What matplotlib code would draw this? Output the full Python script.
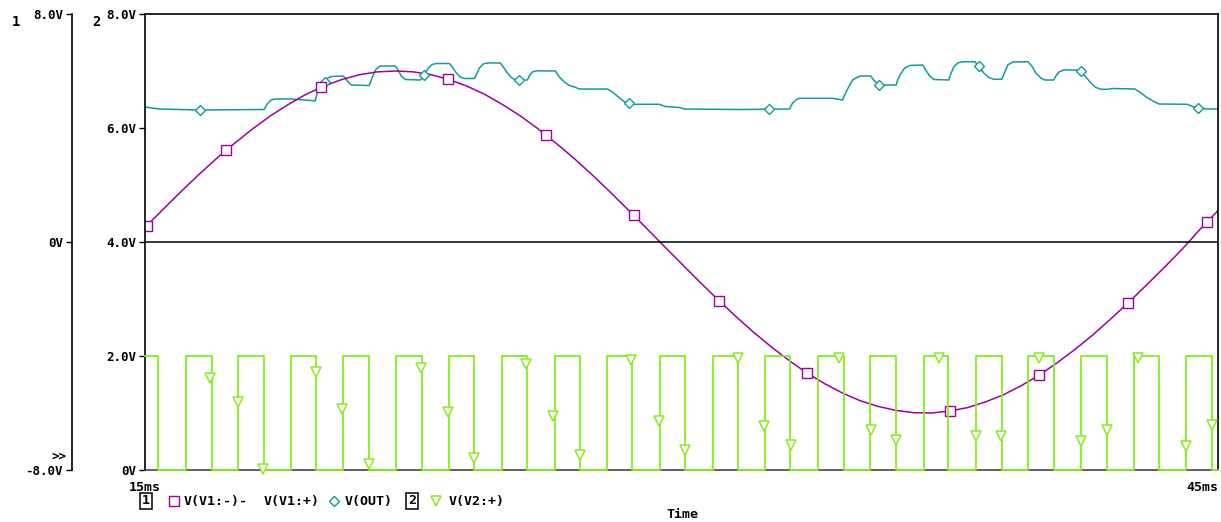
import numpy as np
import matplotlib
matplotlib.use("Agg")
import matplotlib.pyplot as plt
from matplotlib.lines import Line2D

plt.rcParams['font.family'] = ['DejaVu Sans Mono']
plt.rcParams['font.weight'] = 'bold'

# ---------------- data ----------------
# V(V1:-)-V(V1:+) sampled every 0.5 ms from 15 ms to 45 ms (axis 1)
diff_t = np.linspace(15, 45, 61)
diff_v = [0.51, 1.14, 1.76, 2.36, 2.93, 3.46, 3.96, 4.42, 4.82, 5.18, 5.47, 5.70,
          5.87, 5.97, 6.00, 5.97, 5.87, 5.70, 5.47, 5.18, 4.82, 4.42, 3.96, 3.46,
          2.93, 2.36, 1.76, 1.14, 0.51, -0.13, -0.76, -1.39, -2.00, -2.59, -3.15,
          -3.67, -4.15, -4.59, -4.97, -5.30, -5.57, -5.77, -5.91, -5.99, -6.00,
          -5.93, -5.81, -5.61, -5.36, -5.04, -4.67, -4.24, -3.77, -3.26, -2.70,
          -2.12, -1.51, -0.89, -0.25, 0.45, 1.10]
diff_marker_t = [15.05, 17.27, 19.93, 23.48, 26.22, 28.66, 31.06, 33.50,
                 37.50, 40.00, 42.48, 44.69]

# V(OUT) (axis 1)
out_t = [15.000, 15.392, 16.511, 18.330, 18.414, 18.526, 18.638, 19.086, 19.702, 19.757,
         19.813, 19.869, 19.981, 20.093, 20.205, 20.541, 20.597, 20.681, 20.765, 21.268,
         21.296, 21.380, 21.464, 21.576, 21.996, 22.080, 22.164, 22.276, 22.696, 22.752,
         22.836, 22.920, 23.032, 23.144, 23.508, 23.592, 23.704, 23.815, 23.927, 24.207,
         24.263, 24.347, 24.459, 24.571, 24.935, 25.019, 25.131, 25.243, 25.355, 25.690,
         25.746, 25.830, 25.942, 26.474, 26.586, 26.726, 26.866, 27.006, 27.146, 27.928,
         28.068, 28.236, 28.404, 28.600, 29.384, 29.552, 29.944, 30.084, 31.623, 33.022,
         33.106, 33.218, 33.302, 34.225, 34.505, 34.561, 34.673, 34.785, 34.897, 35.009,
         35.289, 35.373, 35.485, 35.597, 36.002, 36.044, 36.128, 36.240, 36.380, 36.744,
         36.828, 36.940, 37.052, 37.472, 37.528, 37.612, 37.724, 37.864, 38.200, 38.312,
         38.452, 38.592, 38.732, 38.956, 39.039, 39.123, 39.263, 39.683, 39.795, 39.907,
         40.047, 40.159, 40.411, 40.467, 40.551, 40.691, 41.055, 41.167, 41.307, 41.447,
         41.587, 41.727, 41.923, 42.035, 42.678, 42.846, 43.014, 43.182, 43.350, 44.134,
         44.302, 44.498, 44.694, 45.000]
out_v = [4.737, 4.667, 4.632, 4.649, 4.842, 4.982, 5.018, 5.018, 4.958, 4.947,
         5.228, 5.404, 5.544, 5.737, 5.807, 5.825, 5.754, 5.614, 5.509, 5.491,
         5.579, 5.860, 6.070, 6.175, 6.175, 6.035, 5.825, 5.702, 5.684, 5.754,
         5.930, 6.105, 6.228, 6.263, 6.263, 6.140, 5.930, 5.789, 5.737, 5.737,
         5.860, 6.105, 6.246, 6.281, 6.281, 6.140, 5.930, 5.772, 5.684, 5.684,
         5.825, 5.965, 6.007, 6.000, 5.789, 5.614, 5.491, 5.439, 5.368, 5.368,
         5.263, 5.088, 4.923, 4.832, 4.832, 4.754, 4.719, 4.667, 4.649, 4.667,
         4.877, 5.000, 5.042, 5.042, 4.982, 5.158, 5.439, 5.684, 5.772, 5.825,
         5.825, 5.684, 5.533, 5.509, 5.509, 5.684, 5.895, 6.105, 6.193, 6.211,
         6.035, 5.825, 5.702, 5.684, 5.895, 6.140, 6.281, 6.326, 6.326, 6.175,
         5.930, 5.772, 5.709, 5.709, 5.965, 6.211, 6.316, 6.326, 6.175, 5.930,
         5.754, 5.684, 5.684, 5.825, 5.965, 6.035, 6.035, 5.982, 5.789, 5.579,
         5.421, 5.358, 5.358, 5.386, 5.368, 5.228, 5.070, 4.947, 4.842, 4.832,
         4.747, 4.702, 4.667, 4.667]
out_marker_t = [16.54, 20.03, 22.81, 25.45, 28.53, 32.46, 35.52, 38.32, 41.16, 44.45]

# V(V2:+) square wave (axis 2): level and edge times
v2_high = 2.0
v2_low = 0.0
v2_start = 2.0
v2_fall = [15.37, 16.87, 18.32, 19.78, 21.25, 22.74, 24.21, 25.67, 27.17, 28.62,
           30.10, 31.59, 33.04, 34.53, 35.99, 37.46, 38.95, 40.41, 41.89, 43.36, 44.83]
v2_rise = [16.14, 17.61, 19.08, 20.54, 22.02, 23.49, 24.98, 26.45, 27.92, 29.39,
           30.87, 32.34, 33.82, 35.27, 36.77, 38.23, 39.70, 41.18, 42.64, 44.11]
v2_marker_t = [16.82, 17.60, 18.30, 19.79, 20.51, 21.27, 22.72, 23.48, 24.21, 25.66,
               26.42, 27.15, 28.60, 29.38, 30.11, 31.57, 32.32, 33.05, 34.39, 35.29,
               35.99, 37.19, 38.23, 38.93, 39.99, 41.17, 41.89, 42.76, 44.11, 44.83]
v2_marker_v = [1.61, 1.19, 0.02, 1.72, 1.07, 0.11, 1.79, 1.02, 0.21, 1.86,
               0.95, 0.26, 1.93, 0.86, 0.35, 1.97, 0.77, 0.44, 1.97, 0.70,
               0.53, 1.97, 0.60, 0.60, 1.97, 0.51, 0.70, 1.97, 0.42, 0.79]

axis1_ticks = [-8, 0, 8]
axis1_labels = ['-8.0V', '0V', '8.0V']
axis2_ticks = [0, 2, 4, 6, 8]
axis2_labels = ['0V', '2.0V', '4.0V', '6.0V', '8.0V']
x_ticks = [15, 45]
x_labels = ['15ms', '45ms']

# ---------------- colours ----------------
PURPLE = '#A000A0'
TEAL = '#109C9C'
GREEN = '#84EE1C'

W, H = 1221, 522
fig = plt.figure(figsize=(W / 100, H / 100), dpi=100)
fig.patch.set_facecolor('white')
L, R, T, B = 145, 1218, 14, 470
rect = [L / W, 1 - B / H, (R - L) / W, (B - T) / H]

ax1 = fig.add_axes(rect)
ax2 = fig.add_axes(rect, sharex=ax1)
ax2.patch.set_visible(False)

# axis 1
ax1.set_xlim(15, 45)
ax1.set_ylim(-8, 8)
for s in ['top', 'right', 'bottom']:
    ax1.spines[s].set_visible(False)
ax1.spines['left'].set_position(('outward', 73 * 0.72))
ax1.spines['left'].set_linewidth(1.2)
ax1.set_yticks(axis1_ticks)
ax1.set_yticklabels(axis1_labels)
ax1.tick_params(axis='y', direction='out', length=4, width=1, pad=2.5, labelsize=9)
ax1.tick_params(axis='x', length=0, labelbottom=False)

# axis 2
ax2.set_ylim(0, 8)
ax2.set_yticks(axis2_ticks)
ax2.set_yticklabels(axis2_labels)
ax2.tick_params(axis='y', direction='out', length=4, width=1, pad=2.5, labelsize=9)
ax2.set_xticks(x_ticks)
ax2.set_xticklabels(x_labels)
ax2.tick_params(axis='x', length=0, pad=8, labelsize=9.5)
xl = ax2.get_xticklabels()
xl[0].set_ha('center')
xl[1].set_ha('right')
for s in ['top', 'right', 'left']:
    ax2.spines[s].set_color('black')
    ax2.spines[s].set_linewidth(1.2)
ax2.spines['bottom'].set_color('#444444')
ax2.spines['bottom'].set_linewidth(1.2)
ax2.axhline(4, color='black', lw=1.1, zorder=1.5)

# traces on axis 1
ax1.plot(out_t, out_v, color=TEAL, lw=1.1, zorder=2)
ax1.plot(out_marker_t, np.interp(out_marker_t, out_t, out_v), ls='none', marker='D',
         ms=5, mfc='white', mec=TEAL, mew=1.0, zorder=3)
ax1.plot(diff_t, diff_v, color=PURPLE, lw=1.1, zorder=2.2)
ax1.plot(diff_marker_t, np.interp(diff_marker_t, diff_t, diff_v), ls='none', marker='s',
         ms=7, mfc='white', mec=PURPLE, mew=1.0, zorder=3)

# square wave on axis 2
edges = sorted([(t, v2_low) for t in v2_fall] + [(t, v2_high) for t in v2_rise])
sq_t, sq_v = [15.0], [v2_start]
cur = v2_start
for t, nv in edges:
    sq_t += [t, t]
    sq_v += [cur, nv]
    cur = nv
sq_t.append(45.0)
sq_v.append(cur)
ax2.plot(sq_t, sq_v, color=GREEN, lw=1.3, zorder=3, clip_on=False)
ax2.plot(v2_marker_t, v2_marker_v, ls='none', marker='v', ms=7, mfc='white',
         mec=GREEN, mew=1.1, zorder=3.5, clip_on=False)

# axis numbers and extra texts
fig.text(12 / W, 1 - 22 / H, '1', ha='left', va='center', fontsize=10)
fig.text(92 / W, 1 - 22 / H, '2', ha='left', va='center', fontsize=10)
fig.text(67 / W, 1 - 456 / H, '>>', ha='right', va='center', fontsize=9)
fig.text(682 / W, 1 - 515 / H, 'Time', ha='center', va='center', fontsize=9.5)

# legend
ly = 1 - 501 / H
fig.text(146 / W, ly, '1', ha='center', va='center', fontsize=9.5,
         bbox=dict(boxstyle='square,pad=0.15', fc='white', ec='black', lw=1.1))
fig.add_artist(Line2D([174 / W], [ly], transform=fig.transFigure, marker='s', ms=7,
                      mfc='white', mec=PURPLE, mew=1.0, ls='none'))
fig.text(184 / W, ly, 'V(V1:-)-', ha='left', va='center', fontsize=9.5)
fig.text(264 / W, ly, 'V(V1:+)', ha='left', va='center', fontsize=9.5)
fig.add_artist(Line2D([334 / W], [ly], transform=fig.transFigure, marker='D', ms=5,
                      mfc='white', mec=TEAL, mew=1.0, ls='none'))
fig.text(345 / W, ly, 'V(OUT)', ha='left', va='center', fontsize=9.5)
fig.text(412 / W, ly, '2', ha='center', va='center', fontsize=9.5,
         bbox=dict(boxstyle='square,pad=0.15', fc='white', ec='black', lw=1.1))
fig.add_artist(Line2D([436 / W], [ly], transform=fig.transFigure, marker='v', ms=7,
                      mfc='white', mec=GREEN, mew=1.1, ls='none'))
fig.text(449 / W, ly, 'V(V2:+)', ha='left', va='center', fontsize=9.5)

fig.savefig('out.png', dpi=100, facecolor='white')
